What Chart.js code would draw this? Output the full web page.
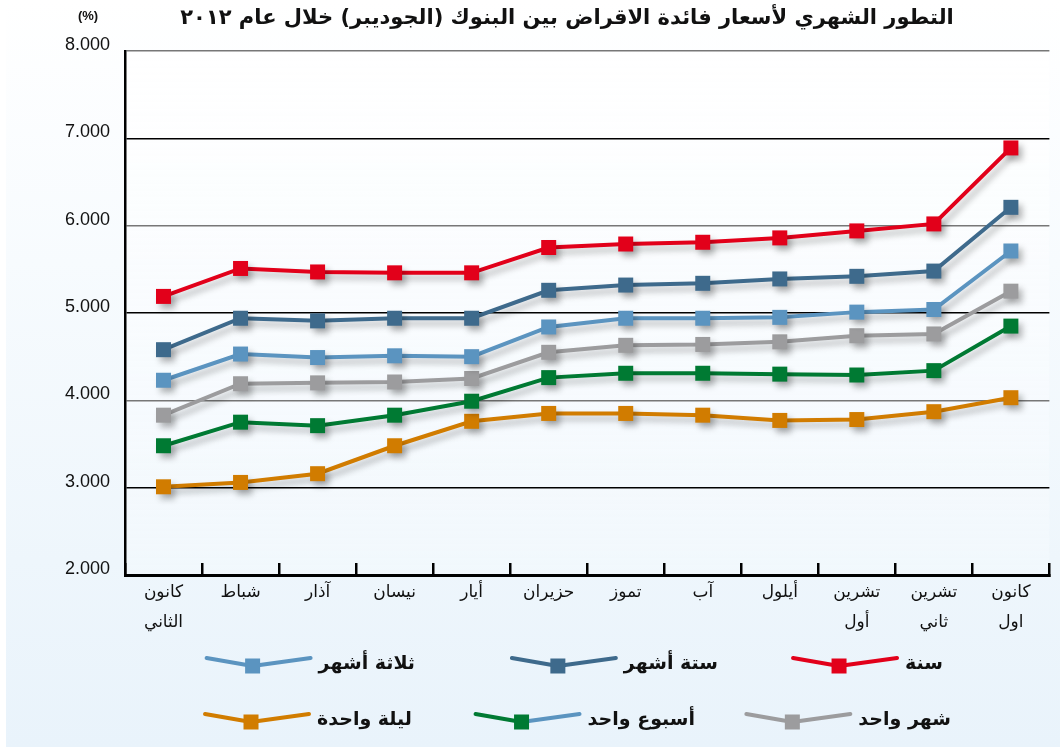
<!DOCTYPE html>
<html lang="ar">
<head>
<meta charset="utf-8">
<title>Interbank rates 2012</title>
<script src="https://cdn.jsdelivr.net/npm/chart.js@4.4.1/dist/chart.umd.min.js"></script>
<style>
    html, body { margin: 0; padding: 0; background: #fff; }
    #wrap { position: relative; width: 1060px; height: 747px; overflow: hidden; }
    #panel {
        position: absolute; left: 6px; top: 0; width: 1054px; height: 747px;
        background: linear-gradient(to bottom, #ffffff 0%, #f7fbfe 35%, #eef6fc 75%, #e9f3fb 100%);
    }
    #chart { position: absolute; left: 0; top: 0; }
</style>
</head>
<body>
<div id="wrap">
    <div id="panel"></div>
    <canvas id="chart" width="1060" height="747"></canvas>
</div>
<script>
// Months (left to right), multi-line where the reference wraps
const months = [["كانون", "الثاني"], "شباط", "آذار", "نيسان", "أيار", "حزيران", "تموز", "آب", "أيلول", ["تشرين", "أول"], ["تشرين", "ثاني"], ["كانون", "اول"]];

// Rates in percent
const oneYear     = [5.19, 5.51, 5.47, 5.46, 5.46, 5.75, 5.79, 5.81, 5.86, 5.94, 6.02, 6.89];
const sixMonths   = [4.58, 4.94, 4.91, 4.94, 4.94, 5.26, 5.32, 5.34, 5.39, 5.42, 5.48, 6.21];
const threeMonths = [4.23, 4.53, 4.49, 4.51, 4.50, 4.84, 4.94, 4.94, 4.95, 5.01, 5.04, 5.71];
const oneMonth    = [3.83, 4.19, 4.20, 4.21, 4.25, 4.55, 4.63, 4.64, 4.67, 4.74, 4.76, 5.25];
const oneWeek     = [3.48, 3.75, 3.71, 3.83, 3.99, 4.26, 4.31, 4.31, 4.30, 4.29, 4.34, 4.85];
const overnight   = [3.01, 3.06, 3.16, 3.48, 3.76, 3.85, 3.85, 3.83, 3.77, 3.78, 3.87, 4.03];

const seriesNames = ["سنة", "ستة أشهر", "ثلاثة أشهر", "شهر واحد", "أسبوع واحد", "ليلة واحدة"];
const yMin = 2, yMax = 8, yStep = 1;

const chartTitle = "التطور الشهري لأسعار فائدة الاقراض بين البنوك (الجوديبر) خلال عام ٢٠١٢";
const unitLabel = "(%)";

const colors = {
    year: "#e2001a",
    six: "#3e6a8c",
    three: "#5b94c0",
    month: "#9c9c9e",
    week: "#007a33",
    night: "#d17c00"
};

const arabicFont = "'DejaVu Sans', sans-serif";

function makeSeries(label, data, color) {
    return {
        label: label,
        data: data,
        borderColor: color,
        backgroundColor: color,
        borderWidth: 4,
        tension: 0,
        pointStyle: "rect",
        pointRadius: 10.6,
        pointHoverRadius: 10.6,
        pointBorderWidth: 0,
        pointBackgroundColor: color,
        clip: false
    };
}

// soft drop shadow under every line, like the reference
const shadowPlugin = {
    id: "lineShadow",
    beforeDatasetDraw(chart) {
        const c = chart.ctx;
        c.save();
        c.shadowColor = "rgba(0, 0, 0, 0.28)";
        c.shadowBlur = 6;
        c.shadowOffsetX = 4;
        c.shadowOffsetY = 5;
    },
    afterDatasetDraw(chart) {
        chart.ctx.restore();
    }
};

// plot area tint
const areaPlugin = {
    id: "areaTint",
    beforeDraw(chart) {
        const a = chart.chartArea;
        const c = chart.ctx;
        const g = c.createLinearGradient(0, a.top, 0, a.bottom);
        g.addColorStop(0, "rgba(255,255,255,0.9)");
        g.addColorStop(1, "rgba(244,249,253,0.6)");
        c.save();
        c.fillStyle = g;
        c.fillRect(a.left, a.top, a.right - a.left, a.bottom - a.top);
        c.restore();
    }
};

// title, unit and the two-row legend
const textPlugin = {
    id: "texts",
    afterDraw(chart) {
        const c = chart.ctx;
        c.save();
        c.fillStyle = "#111";
        c.direction = "rtl";
        c.textAlign = "center";
        c.textBaseline = "middle";
        c.font = "bold 21px " + arabicFont;
        c.fillText(chartTitle, 567, 19);

        c.direction = "ltr";
        c.font = "bold 13px 'Liberation Sans', Arial, sans-serif";
        c.fillText(unitLabel, 88, 16);

        // legend slots: right edge of text, row y
        const slots = [
            { right: 943, y: 664 }, { right: 718, y: 664 }, { right: 415, y: 664 },
            { right: 951, y: 720 }, { right: 695, y: 720 }, { right: 412, y: 720 }
        ];
        c.font = "bold 19px " + arabicFont;
        chart.data.datasets.forEach((ds, i) => {
            const s = slots[i];
            c.direction = "rtl";
            c.textAlign = "right";
            c.fillStyle = "#111";
            c.fillText(ds.label, s.right, s.y);
            const w = c.measureText(ds.label).width;
            const lineRight = s.right - w - 8;
            const cx = lineRight - 58;
            const cy = s.y + 2;
            c.lineWidth = 4;
            c.lineCap = "round";
            c.strokeStyle = ds.borderColor;
            c.beginPath();
            c.moveTo(cx - 46, cy - 8);
            c.lineTo(cx, cy);
            c.stroke();
            // the reference shows the week key with a light-blue right arm
            c.strokeStyle = ds.legendRightColor || ds.borderColor;
            c.beginPath();
            c.moveTo(cx, cy);
            c.lineTo(lineRight, cy - 8);
            c.stroke();
            c.fillStyle = ds.borderColor;
            c.fillRect(cx - 7.5, cy - 7.5, 15, 15);
        });
        c.restore();
    }
};

const datasets = [
    makeSeries(seriesNames[0], oneYear, colors.year),
    makeSeries(seriesNames[1], sixMonths, colors.six),
    makeSeries(seriesNames[2], threeMonths, colors.three),
    makeSeries(seriesNames[3], oneMonth, colors.month),
    makeSeries(seriesNames[4], oneWeek, colors.week),
    makeSeries(seriesNames[5], overnight, colors.night)
];
datasets[4].legendRightColor = colors.three;

new Chart(document.getElementById("chart"), {
    type: "line",
    data: { labels: months, datasets: datasets },
    options: {
        responsive: false,
        animation: false,
        layout: { padding: { top: 51, right: 8, bottom: 0, left: 0 } },
        plugins: {
            legend: { display: false },
            title: { display: false },
            tooltip: { enabled: false }
        },
        scales: {
            x: {
                offset: true,
                afterFit(scale) { scale.height = 172; },
                grid: {
                    offset: true,
                    drawOnChartArea: false,
                    drawTicks: true,
                    tickLength: -12,
                    color: "#000",
                    lineWidth: 2.5
                },
                border: { display: true, color: "#000", width: 3 },
                ticks: {
                    autoSkip: false,
                    maxRotation: 0,
                    padding: 14,
                    color: "#111",
                    font: { family: arabicFont, size: 17, lineHeight: 1.8 }
                }
            },
            y: {
                min: yMin,
                max: yMax,
                afterFit(scale) { scale.width = 125; },
                grid: {
                    drawTicks: false,
                    color: (ctx) => (ctx.tick && ctx.tick.value % 2 === 1) ? "#000" : "#777",
                    lineWidth: 1.6
                },
                border: { display: true, color: "#000", width: 2.5 },
                ticks: {
                    stepSize: yStep,
                    padding: 15,
                    labelOffset: -6,
                    color: "#111",
                    font: { family: "'Liberation Sans', Arial, sans-serif", size: 18 },
                    callback: (v) => Number(v).toFixed(3)
                }
            }
        }
    },
    plugins: [areaPlugin, shadowPlugin, textPlugin]
});
</script>
</body>
</html>
